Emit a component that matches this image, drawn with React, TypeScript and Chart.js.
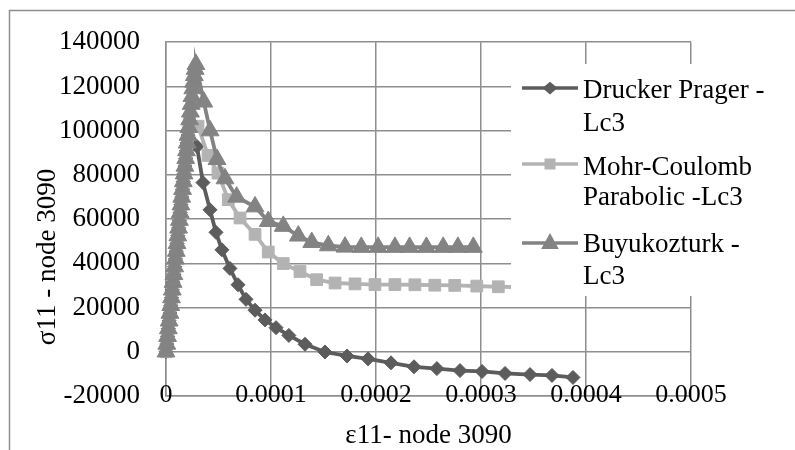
import React, { useEffect, useRef } from 'react';
import { Chart, registerables } from 'chart.js';

Chart.register(...registerables);

const FONT = '"Liberation Serif", "Times New Roman", serif';
const GRID = '#8e8e8e';

const xTickLabels = ['0', '0.0001', '0.0002', '0.0003', '0.0004', '0.0005'];
const yTickLabels = ['-20000', '0', '20000', '40000', '60000', '80000', '100000', '120000', '140000'];

const seriesNames = ['Drucker Prager -|Lc3', 'Mohr-Coulomb|Parabolic -Lc3', 'Buyukozturk -|Lc3'];
const seriesColors = ['#5c5c5c', '#b3b3b3', '#838383'];

// elastic (shared) branch, strain in 1e-6 units
const ascentStrain = [0, 0.75, 1.5, 2.25, 3, 3.75, 4.5, 5.25, 6, 6.75, 7.5, 8.25, 9, 9.75, 10.5, 11.25, 12, 12.75, 13.5, 14.25, 15, 15.75, 16.5, 17.25, 18, 18.75, 19.5, 20.25, 21, 21.75, 22.5, 23.25, 24, 24.75, 25.5, 26.25, 27, 27.75, 28.5];
const ascentStress = [0, 3500, 7000, 10500, 14000, 17500, 21000, 24500, 28000, 31500, 35000, 38500, 42000, 45500, 49000, 52500, 56000, 59500, 63000, 66500, 70000, 73500, 77000, 80500, 84000, 87500, 91000, 94500, 98000, 101500, 105000, 108500, 112000, 115500, 119000, 122000, 125000, 127800, 130000];

// softening branches, strain in 1e-6 units
const druckerStrain = [29.5, 35.2, 41.9, 47.6, 53.3, 60.9, 68.6, 76.2, 84.8, 94.3, 104.8, 117, 132.4, 151.4, 172.4, 192.4, 214.3, 236.2, 258, 280, 301, 322.9, 346.7, 367.6, 387.6];
const druckerStress = [92800, 76500, 64200, 54000, 46100, 37700, 30300, 23700, 18800, 14400, 10900, 7400, 3400, -100, -1900, -3200, -5000, -6800, -7600, -8500, -8900, -9800, -10300, -10700, -11600];

const mohrStrain = [30.5, 40, 49.5, 59.3, 70.5, 84.8, 97.4, 111.7, 127.6, 143.5, 161, 180, 199, 218, 237, 256, 275, 296, 316.5, 337];
const mohrStress = [102000, 88800, 80800, 68800, 60500, 53100, 45100, 39900, 36300, 32600, 31100, 30700, 30400, 30400, 30300, 30100, 30000, 29700, 29400, 29200];

const buyukStrain = [36, 42, 48.6, 56.2, 67.3, 84.8, 97.4, 111.7, 126, 138.8, 154.6, 170.5, 186, 202, 218, 232, 248, 264, 278, 292.7];
const buyukStress = [113000, 100000, 87000, 78300, 70000, 65600, 59000, 56800, 52400, 49500, 48000, 47400, 47300, 47300, 47300, 47300, 47300, 47300, 47300, 47300];

// last elastic index reached by each model before softening
const druckerPeakIndex = 28;
const mohrPeakIndex = 30;
const buyukPeakIndex = 38;

function toPoints(strain: number[], stress: number[]) {
  return strain.map((s, i) => ({ x: s * 1e-6, y: stress[i] }));
}

function branch(peak: number, strain: number[], stress: number[]) {
  return [
    ...toPoints(ascentStrain.slice(0, peak + 1), ascentStress.slice(0, peak + 1)),
    ...toPoints(strain, stress),
  ];
}

function marker(ctx: CanvasRenderingContext2D, kind: string, x: number, y: number, color: string) {
  ctx.fillStyle = color;
  ctx.beginPath();
  if (kind === 'diamond') {
    const r = 7.5;
    ctx.moveTo(x, y - r * 0.85);
    ctx.lineTo(x + r, y);
    ctx.lineTo(x, y + r * 0.85);
    ctx.lineTo(x - r, y);
  } else if (kind === 'square') {
    ctx.rect(x - 5.5, y - 5.5, 11, 11);
  } else {
    const r = 10;
    ctx.moveTo(x, y - r);
    ctx.lineTo(x + r * 0.88, y + r * 0.6);
    ctx.lineTo(x - r * 0.88, y + r * 0.6);
  }
  ctx.closePath();
  ctx.fill();
}

const decorPlugin = {
  id: 'decor',
  beforeDraw(chart: any) {
    const ctx = chart.ctx as CanvasRenderingContext2D;
    ctx.save();
    ctx.fillStyle = '#ffffff';
    ctx.fillRect(0, 0, chart.width, chart.height);
    ctx.restore();
  },
  afterDraw(chart: any) {
    const ctx = chart.ctx as CanvasRenderingContext2D;
    const area = chart.chartArea;
    const xScale = chart.scales.x;
    ctx.save();
    // outer chart border
    ctx.strokeStyle = GRID;
    ctx.lineWidth = 1.5;
    ctx.beginPath();
    ctx.moveTo(9.5, chart.height + 5);
    ctx.lineTo(9.5, 10.5);
    ctx.lineTo(chart.width + 5, 10.5);
    ctx.stroke();

    // horizontal-axis tick labels (sit across the bottom axis line)
    ctx.fillStyle = '#000000';
    ctx.font = `26px ${FONT}`;
    ctx.textAlign = 'center';
    ctx.textBaseline = 'alphabetic';
    xScale.ticks.forEach((t: any, i: number) => {
      ctx.fillText(xTickLabels[i], xScale.getPixelForValue(t.value), 402);
    });

    // legend box
    ctx.fillStyle = '#ffffff';
    ctx.fillRect(511, 64, 300, 232);
    const kinds = ['diamond', 'square', 'triangle'];
    const lineY = [88, 164, 243];
    const base1 = [98, 175, 252];
    const base2 = [131, 205, 284];
    ctx.font = `27px ${FONT}`;
    ctx.textAlign = 'left';
    seriesNames.forEach((name, i) => {
      ctx.strokeStyle = seriesColors[i];
      ctx.lineWidth = 3.5;
      ctx.beginPath();
      ctx.moveTo(522, lineY[i]);
      ctx.lineTo(578, lineY[i]);
      ctx.stroke();
      marker(ctx, kinds[i], 550, lineY[i], seriesColors[i]);
      const [a, b] = name.split('|');
      ctx.fillStyle = '#000000';
      ctx.fillText(a, 583, base1[i]);
      ctx.fillText(b, 583, base2[i]);
    });

    // axis titles
    ctx.fillStyle = '#000000';
    ctx.textAlign = 'center';
    ctx.fillText('ε11- node 3090', (area.left + area.right) / 2, 443);
    ctx.translate(55, 257);
    ctx.rotate(-Math.PI / 2);
    ctx.fillText('σ11 - node 3090', 0, 0);
    ctx.restore();
  },
};

export default function App() {
  const ref = useRef<HTMLCanvasElement>(null);
  useEffect(() => {
    const mk = (i: number, data: any[], style: string, radius: number) => ({
      label: seriesNames[i].replace('|', ' '),
      data,
      borderColor: seriesColors[i],
      backgroundColor: seriesColors[i],
      pointBackgroundColor: seriesColors[i],
      pointBorderColor: seriesColors[i],
      pointBorderWidth: 1,
      borderWidth: 3.8,
      pointStyle: style,
      pointRadius: radius,
      pointHoverRadius: radius,
      showLine: true,
      tension: 0,
      clip: false as const,
    });
    const chart = new Chart(ref.current!, {
      type: 'scatter',
      data: {
        datasets: [
          mk(2, branch(buyukPeakIndex, buyukStrain, buyukStress), 'triangle', 10.3),
          mk(1, branch(mohrPeakIndex, mohrStrain, mohrStress), 'rect', 8.3),
          mk(0, branch(druckerPeakIndex, druckerStrain, druckerStress), 'rectRot', 7),
        ].map((d, i) => ({ ...d, order: i })),
      },
      options: {
        responsive: false,
        animation: false,
        devicePixelRatio: 1,
        events: [],
        layout: { padding: { left: 0, right: 104, top: 33, bottom: 54 } },
        plugins: { legend: { display: false }, tooltip: { enabled: false } },
        scales: {
          x: {
            type: 'linear',
            position: 'bottom',
            min: 0,
            max: 0.0005,
            afterFit: (s: any) => { s.height = 0; },
            ticks: {
              stepSize: 0.0001,
              autoSkip: false,
              maxRotation: 0,
              display: false,
            },
            grid: { color: GRID, lineWidth: 1.5, drawTicks: false },
            border: { color: GRID, width: 1.5 },
          },
          y: {
            type: 'linear',
            min: -20000,
            max: 140000,
            afterFit: (s: any) => { s.width = 166; },
            ticks: {
              stepSize: 20000,
              padding: 26,
              color: '#000000',
              font: { family: FONT, size: 27 },
              callback: (_v: any, i: number) => yTickLabels[i],
            },
            grid: { color: GRID, lineWidth: 1.5, drawTicks: false },
            border: { color: GRID, width: 1.5 },
          },
        },
      },
      plugins: [decorPlugin],
    } as any);
    return () => chart.destroy();
  }, []);
  return (
    <div style={{ position: 'fixed', left: 0, top: 0, width: 795, height: 450, background: '#ffffff' }}>
      <canvas ref={ref} width={795} height={450} style={{ display: 'block', width: 795, height: 450 }} />
    </div>
  );
}
